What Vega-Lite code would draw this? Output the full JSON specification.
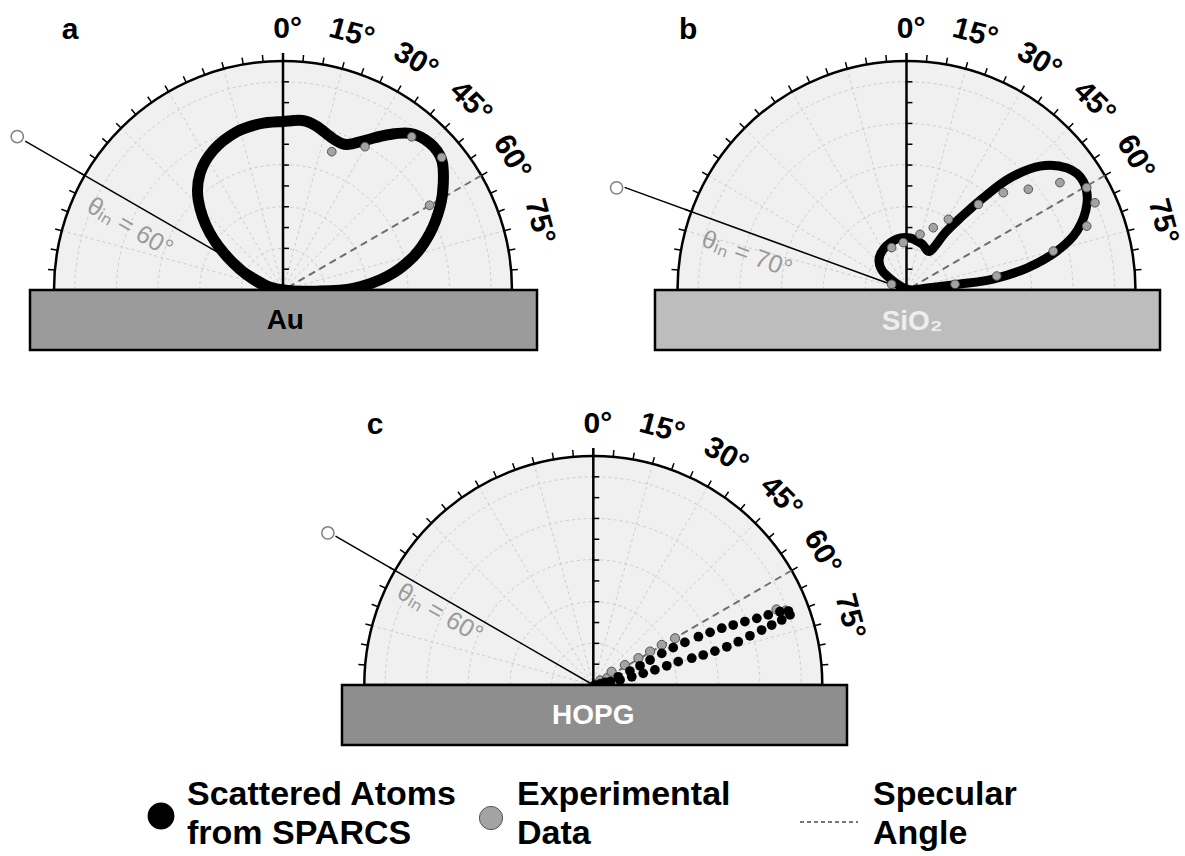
{
"$schema":"https://vega.github.io/schema/vega-lite/v6.json",
"background":"white",
"padding":0,
"config":{"view":{"stroke":null},"axis":{"disable":true},"legend":{"disable":true},"font":"Liberation Sans"},
"datasets":{
"gridArcs":[{"r":0.1818},{"r":0.3636},{"r":0.5455},{"r":0.7273},{"r":0.9091}],
"gridRays":[{"x":-0.9659,"y":0.2588},{"x":-0.866,"y":0.5},{"x":-0.7071,"y":0.7071},{"x":-0.5,"y":0.866},{"x":-0.2588,"y":0.9659},{"x":0.2588,"y":0.9659},{"x":0.5,"y":0.866},{"x":0.7071,"y":0.7071},{"x":0.866,"y":0.5},{"x":0.9659,"y":0.2588}],
"arcTicks":[{"a":-85},{"a":-80},{"a":-75},{"a":-70},{"a":-65},{"a":-60},{"a":-55},{"a":-50},{"a":-45},{"a":-40},{"a":-35},{"a":-30},{"a":-25},{"a":-20},{"a":-15},{"a":-10},{"a":-5},{"a":5},{"a":10},{"a":15},{"a":20},{"a":25},{"a":30},{"a":35},{"a":40},{"a":45},{"a":50},{"a":55},{"a":60},{"a":65},{"a":70},{"a":75},{"a":80},{"a":85}],
"rTicks":[{"y":0.0909},{"y":0.1818},{"y":0.2727},{"y":0.3636},{"y":0.4545},{"y":0.5455},{"y":0.6364},{"y":0.7273},{"y":0.8182},{"y":0.9091}],
"angleLabels":[{"t":"0°","x":0.02,"y":1.14,"rot":0},{"t":"15°","x":0.30,"y":1.12,"rot":15},{"t":"30°","x":0.58,"y":1.0,"rot":30},{"t":"45°","x":0.82,"y":0.82,"rot":45},{"t":"60°","x":1.0,"y":0.58,"rot":60},{"t":"75°","x":1.12,"y":0.30,"rot":75}]
},
"vconcat":[
{"hconcat":[
{"width":590,"height":365,
"layer":[
{"data":{"values":[{"r":1}]},"mark":{"type":"arc","fill":"#f0f0f0"},
"encoding":{"x":{"datum":0,"type":"quantitative","scale":{"domain":[-1.23581,1.34061],"nice":false,"zero":false},"axis":null},
"y":{"datum":0,"type":"quantitative","scale":{"domain":[-0.32751,1.26638],"nice":false,"zero":false},"axis":null},
"theta":{"datum":-90,"type":"quantitative","scale":{"type":"linear","domain":[-90,90],"range":[-1.5708,1.5708]}},
"theta2":{"datum":90},
"radius":{"field":"r","type":"quantitative","stack":null,"scale":{"type":"linear","domain":[0,1],"range":[0,229],"zero":true}}}},
{"data":{"name":"gridArcs"},"mark":{"type":"arc","filled":false,"stroke":"#cccccc","strokeWidth":1,"strokeDash":[3,3]},
"encoding":{"x":{"datum":0,"type":"quantitative"},"y":{"datum":0,"type":"quantitative"},"theta":{"datum":-90,"type":"quantitative"},"theta2":{"datum":90},"radius":{"field":"r","type":"quantitative","stack":null}}},
{"data":{"name":"gridRays"},"mark":{"type":"rule","color":"#cccccc","strokeWidth":1,"strokeDash":[3,3]},
"encoding":{"x":{"field":"x","type":"quantitative"},"y":{"field":"y","type":"quantitative"},"x2":{"datum":0},"y2":{"datum":0}}},
{"data":{"values":[{"r":1}]},"mark":{"type":"arc","filled":false,"stroke":"black","strokeWidth":2.5},
"encoding":{"x":{"datum":0,"type":"quantitative"},"y":{"datum":0,"type":"quantitative"},"theta":{"datum":-90,"type":"quantitative"},"theta2":{"datum":90},"radius":{"field":"r","type":"quantitative","stack":null}}},
{"data":{"name":"arcTicks"},"mark":{"type":"arc","filled":false,"stroke":"black","strokeWidth":1.5},
"encoding":{"x":{"datum":0,"type":"quantitative"},"y":{"datum":0,"type":"quantitative"},"theta":{"field":"a","type":"quantitative","stack":null},"theta2":{"field":"a"},"radius":{"datum":1.03,"type":"quantitative"},"radius2":{"datum":1}}},
{"data":{"values":[{}]},"mark":{"type":"rule","color":"black","strokeWidth":2.5},
"encoding":{"x":{"datum":0,"type":"quantitative"},"y":{"datum":0,"type":"quantitative"},"y2":{"datum":1.035}}},
{"data":{"name":"rTicks"},"mark":{"type":"rule","color":"black","strokeWidth":1.5},
"encoding":{"x":{"datum":0,"type":"quantitative"},"x2":{"datum":0.026},"y":{"field":"y","type":"quantitative"}}},
{"data":{"values":[{"x":0.866,"y":0.5}]},"mark":{"type":"rule","color":"#6e6e6e","strokeWidth":2,"strokeDash":[7,5]},
"encoding":{"x":{"field":"x","type":"quantitative"},"y":{"field":"y","type":"quantitative"},"x2":{"datum":0.03},"y2":{"datum":0.017}}},
{"data":{"values":[{"a":-60}]},"mark":{"type":"arc","filled":false,"stroke":"black","strokeWidth":1.5},
"encoding":{"x":{"datum":0,"type":"quantitative"},"y":{"datum":0,"type":"quantitative"},"theta":{"field":"a","type":"quantitative","stack":null},"theta2":{"field":"a"},"radius":{"datum":1.3,"type":"quantitative"},"radius2":{"datum":0}}},
{"data":{"values":[{"x":-1.1605,"y":0.67}]},"mark":{"type":"point","filled":false,"stroke":"#808080","strokeWidth":1.5,"size":150,"opacity":1},
"encoding":{"x":{"field":"x","type":"quantitative"},"y":{"field":"y","type":"quantitative"}}},
{"data":{"values":[{"x":-0.668,"y":0.275,"t":"θᵢₙ = 60°","rot":30}]},"mark":{"type":"text","fontSize":25,"color":"#9a9a9a","align":"center","baseline":"middle"},
"encoding":{"x":{"field":"x","type":"quantitative"},"y":{"field":"y","type":"quantitative"},"text":{"field":"t"},"angle":{"field":"rot","type":"quantitative","scale":null}}},
{"data":{"values":[
{"i":0,"x":0.001,"y":0.0},{"i":1,"x":-0.1,"y":0.029},{"i":2,"x":-0.217,"y":0.117},{"i":3,"x":-0.319,"y":0.248},{"i":4,"x":-0.37,"y":0.393},{"i":5,"x":-0.362,"y":0.51},{"i":6,"x":-0.304,"y":0.611},{"i":7,"x":-0.202,"y":0.691},{"i":8,"x":-0.1,"y":0.726},{"i":9,"x":0.001,"y":0.736},{"i":10,"x":0.085,"y":0.74},{"i":11,"x":0.147,"y":0.715},{"i":12,"x":0.22,"y":0.66},{"i":13,"x":0.278,"y":0.635},{"i":14,"x":0.365,"y":0.655},{"i":15,"x":0.453,"y":0.677},{"i":16,"x":0.555,"y":0.684},{"i":17,"x":0.642,"y":0.641},{"i":18,"x":0.693,"y":0.568},{"i":19,"x":0.7,"y":0.466},{"i":20,"x":0.686,"y":0.364},{"i":21,"x":0.642,"y":0.248},{"i":22,"x":0.569,"y":0.145},{"i":23,"x":0.453,"y":0.058},{"i":24,"x":0.307,"y":0.007},{"i":25,"x":0.147,"y":-0.005}]},
"mark":{"type":"line","color":"black","strokeWidth":11,"interpolate":"cardinal-closed","strokeJoin":"round"},
"encoding":{"x":{"field":"x","type":"quantitative"},"y":{"field":"y","type":"quantitative"},"order":{"field":"i","type":"quantitative"}}},
{"data":{"values":[{"x":0.213,"y":0.604},{"x":0.358,"y":0.626},{"x":0.562,"y":0.669},{"x":0.693,"y":0.579},{"x":0.64,"y":0.37}]},
"mark":{"type":"point","filled":true,"fill":"#a3a3a3","stroke":"#555555","strokeWidth":1,"size":75,"opacity":1},
"encoding":{"x":{"field":"x","type":"quantitative"},"y":{"field":"y","type":"quantitative"}}},
{"data":{"values":[{"x0":-1.1048,"x1":1.1092,"y0":-0.262,"y1":0}]},"mark":{"type":"rect","fill":"#9b9b9b","stroke":"black","strokeWidth":2.5},
"encoding":{"x":{"field":"x0","type":"quantitative"},"x2":{"field":"x1"},"y":{"field":"y0","type":"quantitative"},"y2":{"field":"y1"}}},
{"data":{"values":[{"t":"Au","tx":0.01,"ty":-0.135}]},"mark":{"type":"text","fontSize":28,"fontWeight":"bold","color":"black","align":"center","baseline":"middle"},
"encoding":{"x":{"field":"tx","type":"quantitative"},"y":{"field":"ty","type":"quantitative"},"text":{"field":"t"}}},
{"data":{"name":"angleLabels"},"mark":{"type":"text","fontSize":30,"fontWeight":"bold","color":"black","align":"center","baseline":"middle"},
"encoding":{"x":{"field":"x","type":"quantitative"},"y":{"field":"y","type":"quantitative"},"text":{"field":"t"},"angle":{"field":"rot","type":"quantitative","scale":null}}},
{"data":{"values":[{"t":"a","x":-0.93,"y":1.135}]},"mark":{"type":"text","fontSize":30,"fontWeight":"bold","color":"black","align":"center","baseline":"middle"},
"encoding":{"x":{"field":"x","type":"quantitative"},"y":{"field":"y","type":"quantitative"},"text":{"field":"t"}}}
]},
{"width":590,"height":365,
"layer":[
{"data":{"values":[{"r":1}]},"mark":{"type":"arc","fill":"#f0f0f0"},
"encoding":{"x":{"datum":0,"type":"quantitative","scale":{"domain":[-1.36026,1.21616],"nice":false,"zero":false},"axis":null},
"y":{"datum":0,"type":"quantitative","scale":{"domain":[-0.32751,1.26638],"nice":false,"zero":false},"axis":null},
"theta":{"datum":-90,"type":"quantitative","scale":{"type":"linear","domain":[-90,90],"range":[-1.5708,1.5708]}},
"theta2":{"datum":90},
"radius":{"field":"r","type":"quantitative","stack":null,"scale":{"type":"linear","domain":[0,1],"range":[0,229],"zero":true}}}},
{"data":{"name":"gridArcs"},"mark":{"type":"arc","filled":false,"stroke":"#cccccc","strokeWidth":1,"strokeDash":[3,3]},
"encoding":{"x":{"datum":0,"type":"quantitative"},"y":{"datum":0,"type":"quantitative"},"theta":{"datum":-90,"type":"quantitative"},"theta2":{"datum":90},"radius":{"field":"r","type":"quantitative","stack":null}}},
{"data":{"name":"gridRays"},"mark":{"type":"rule","color":"#cccccc","strokeWidth":1,"strokeDash":[3,3]},
"encoding":{"x":{"field":"x","type":"quantitative"},"y":{"field":"y","type":"quantitative"},"x2":{"datum":0},"y2":{"datum":0}}},
{"data":{"values":[{"r":1}]},"mark":{"type":"arc","filled":false,"stroke":"black","strokeWidth":2.5},
"encoding":{"x":{"datum":0,"type":"quantitative"},"y":{"datum":0,"type":"quantitative"},"theta":{"datum":-90,"type":"quantitative"},"theta2":{"datum":90},"radius":{"field":"r","type":"quantitative","stack":null}}},
{"data":{"name":"arcTicks"},"mark":{"type":"arc","filled":false,"stroke":"black","strokeWidth":1.5},
"encoding":{"x":{"datum":0,"type":"quantitative"},"y":{"datum":0,"type":"quantitative"},"theta":{"field":"a","type":"quantitative","stack":null},"theta2":{"field":"a"},"radius":{"datum":1.03,"type":"quantitative"},"radius2":{"datum":1}}},
{"data":{"values":[{}]},"mark":{"type":"rule","color":"black","strokeWidth":2.5},
"encoding":{"x":{"datum":0,"type":"quantitative"},"y":{"datum":0,"type":"quantitative"},"y2":{"datum":1.035}}},
{"data":{"name":"rTicks"},"mark":{"type":"rule","color":"black","strokeWidth":1.5},
"encoding":{"x":{"datum":0,"type":"quantitative"},"x2":{"datum":0.026},"y":{"field":"y","type":"quantitative"}}},
{"data":{"values":[{"x":0.866,"y":0.5}]},"mark":{"type":"rule","color":"#6e6e6e","strokeWidth":2,"strokeDash":[7,5]},
"encoding":{"x":{"field":"x","type":"quantitative"},"y":{"field":"y","type":"quantitative"},"x2":{"datum":0.03},"y2":{"datum":0.017}}},
{"data":{"values":[{"a":-70}]},"mark":{"type":"arc","filled":false,"stroke":"black","strokeWidth":1.5},
"encoding":{"x":{"datum":0,"type":"quantitative"},"y":{"datum":0,"type":"quantitative"},"theta":{"field":"a","type":"quantitative","stack":null},"theta2":{"field":"a"},"radius":{"datum":1.31,"type":"quantitative"},"radius2":{"datum":0}}},
{"data":{"values":[{"x":-1.266,"y":0.446}]},"mark":{"type":"point","filled":false,"stroke":"#808080","strokeWidth":1.5,"size":150,"opacity":1},
"encoding":{"x":{"field":"x","type":"quantitative"},"y":{"field":"y","type":"quantitative"}}},
{"data":{"values":[{"x":-0.697,"y":0.157,"t":"θᵢₙ = 70°","rot":20}]},"mark":{"type":"text","fontSize":25,"color":"#9a9a9a","align":"center","baseline":"middle"},
"encoding":{"x":{"field":"x","type":"quantitative"},"y":{"field":"y","type":"quantitative"},"text":{"field":"t"},"angle":{"field":"rot","type":"quantitative","scale":null}}},
{"data":{"values":[
{"i":0,"x":0.0,"y":0.004},{"i":1,"x":-0.094,"y":0.07},{"i":2,"x":-0.12,"y":0.127},{"i":3,"x":-0.1,"y":0.179},{"i":4,"x":-0.041,"y":0.223},{"i":5,"x":0.015,"y":0.227},{"i":6,"x":0.068,"y":0.201},{"i":7,"x":0.103,"y":0.17},{"i":8,"x":0.168,"y":0.249},{"i":9,"x":0.234,"y":0.314},{"i":10,"x":0.334,"y":0.402},{"i":11,"x":0.452,"y":0.489},{"i":12,"x":0.583,"y":0.541},{"i":13,"x":0.701,"y":0.533},{"i":14,"x":0.771,"y":0.476},{"i":15,"x":0.788,"y":0.376},{"i":16,"x":0.745,"y":0.258},{"i":17,"x":0.657,"y":0.17},{"i":18,"x":0.526,"y":0.096},{"i":19,"x":0.378,"y":0.048},{"i":20,"x":0.234,"y":0.026},{"i":21,"x":0.09,"y":0.009}]},
"mark":{"type":"line","color":"black","strokeWidth":9,"interpolate":"cardinal-closed","strokeJoin":"round"},
"encoding":{"x":{"field":"x","type":"quantitative"},"y":{"field":"y","type":"quantitative"},"order":{"field":"i","type":"quantitative"}}},
{"data":{"values":[{"x":-0.065,"y":0.185},{"x":-0.014,"y":0.207},{"x":0.059,"y":0.243},{"x":0.117,"y":0.272},{"x":0.183,"y":0.309},{"x":0.314,"y":0.374},{"x":0.423,"y":0.425},{"x":0.532,"y":0.44},{"x":0.67,"y":0.469},{"x":0.787,"y":0.447},{"x":0.823,"y":0.381},{"x":0.787,"y":0.279},{"x":0.641,"y":0.17},{"x":0.394,"y":0.061},{"x":0.212,"y":0.025},{"x":-0.065,"y":0.025}]},
"mark":{"type":"point","filled":true,"fill":"#a3a3a3","stroke":"#555555","strokeWidth":1,"size":75,"opacity":1},
"encoding":{"x":{"field":"x","type":"quantitative"},"y":{"field":"y","type":"quantitative"}}},
{"data":{"values":[{"x0":-1.0983,"x1":1.107,"y0":-0.262,"y1":0}]},"mark":{"type":"rect","fill":"#bdbdbd","stroke":"black","strokeWidth":2.5},
"encoding":{"x":{"field":"x0","type":"quantitative"},"x2":{"field":"x1"},"y":{"field":"y0","type":"quantitative"},"y2":{"field":"y1"}}},
{"data":{"values":[{"t":"SiO₂","tx":0.024,"ty":-0.14}]},"mark":{"type":"text","fontSize":28,"fontWeight":"bold","color":"#eeeeee","align":"center","baseline":"middle"},
"encoding":{"x":{"field":"tx","type":"quantitative"},"y":{"field":"ty","type":"quantitative"},"text":{"field":"t"}}},
{"data":{"name":"angleLabels"},"mark":{"type":"text","fontSize":30,"fontWeight":"bold","color":"black","align":"center","baseline":"middle"},
"encoding":{"x":{"field":"x","type":"quantitative"},"y":{"field":"y","type":"quantitative"},"text":{"field":"t"},"angle":{"field":"rot","type":"quantitative","scale":null}}},
{"data":{"values":[{"t":"b","x":-0.954,"y":1.135}]},"mark":{"type":"text","fontSize":30,"fontWeight":"bold","color":"black","align":"center","baseline":"middle"},
"encoding":{"x":{"field":"x","type":"quantitative"},"y":{"field":"y","type":"quantitative"},"text":{"field":"t"}}}
]}
],"spacing":5},
{"width":1185,"height":395,
"layer":[
{"data":{"values":[{"r":1}]},"mark":{"type":"arc","fill":"#f0f0f0"},
"encoding":{"x":{"datum":0,"type":"quantitative","scale":{"domain":[-2.59083,2.58384],"nice":false,"zero":false},"axis":null},
"y":{"datum":0,"type":"quantitative","scale":{"domain":[-0.32751,1.39738],"nice":false,"zero":false},"axis":null},
"theta":{"datum":-90,"type":"quantitative","scale":{"type":"linear","domain":[-90,90],"range":[-1.5708,1.5708]}},
"theta2":{"datum":90},
"radius":{"field":"r","type":"quantitative","stack":null,"scale":{"type":"linear","domain":[0,1],"range":[0,229],"zero":true}}}},
{"data":{"name":"gridArcs"},"mark":{"type":"arc","filled":false,"stroke":"#cccccc","strokeWidth":1,"strokeDash":[3,3]},
"encoding":{"x":{"datum":0,"type":"quantitative"},"y":{"datum":0,"type":"quantitative"},"theta":{"datum":-90,"type":"quantitative"},"theta2":{"datum":90},"radius":{"field":"r","type":"quantitative","stack":null}}},
{"data":{"name":"gridRays"},"mark":{"type":"rule","color":"#cccccc","strokeWidth":1,"strokeDash":[3,3]},
"encoding":{"x":{"field":"x","type":"quantitative"},"y":{"field":"y","type":"quantitative"},"x2":{"datum":0},"y2":{"datum":0}}},
{"data":{"values":[{"r":1}]},"mark":{"type":"arc","filled":false,"stroke":"black","strokeWidth":2.5},
"encoding":{"x":{"datum":0,"type":"quantitative"},"y":{"datum":0,"type":"quantitative"},"theta":{"datum":-90,"type":"quantitative"},"theta2":{"datum":90},"radius":{"field":"r","type":"quantitative","stack":null}}},
{"data":{"name":"arcTicks"},"mark":{"type":"arc","filled":false,"stroke":"black","strokeWidth":1.5},
"encoding":{"x":{"datum":0,"type":"quantitative"},"y":{"datum":0,"type":"quantitative"},"theta":{"field":"a","type":"quantitative","stack":null},"theta2":{"field":"a"},"radius":{"datum":1.03,"type":"quantitative"},"radius2":{"datum":1}}},
{"data":{"values":[{}]},"mark":{"type":"rule","color":"black","strokeWidth":2.5},
"encoding":{"x":{"datum":0,"type":"quantitative"},"y":{"datum":0,"type":"quantitative"},"y2":{"datum":1.035}}},
{"data":{"name":"rTicks"},"mark":{"type":"rule","color":"black","strokeWidth":1.5},
"encoding":{"x":{"datum":0,"type":"quantitative"},"x2":{"datum":0.026},"y":{"field":"y","type":"quantitative"}}},
{"data":{"values":[{"x":0.866,"y":0.5}]},"mark":{"type":"rule","color":"#6e6e6e","strokeWidth":2,"strokeDash":[7,5]},
"encoding":{"x":{"field":"x","type":"quantitative"},"y":{"field":"y","type":"quantitative"},"x2":{"datum":0.03},"y2":{"datum":0.017}}},
{"data":{"values":[{"a":-60}]},"mark":{"type":"arc","filled":false,"stroke":"black","strokeWidth":1.5},
"encoding":{"x":{"datum":0,"type":"quantitative"},"y":{"datum":0,"type":"quantitative"},"theta":{"field":"a","type":"quantitative","stack":null},"theta2":{"field":"a"},"radius":{"datum":1.3,"type":"quantitative"},"radius2":{"datum":0}}},
{"data":{"values":[{"x":-1.159,"y":0.664}]},"mark":{"type":"point","filled":false,"stroke":"#808080","strokeWidth":1.5,"size":150,"opacity":1},
"encoding":{"x":{"field":"x","type":"quantitative"},"y":{"field":"y","type":"quantitative"}}},
{"data":{"values":[{"x":-0.669,"y":0.314,"t":"θᵢₙ = 60°","rot":30}]},"mark":{"type":"text","fontSize":25,"color":"#9a9a9a","align":"center","baseline":"middle"},
"encoding":{"x":{"field":"x","type":"quantitative"},"y":{"field":"y","type":"quantitative"},"text":{"field":"t"},"angle":{"field":"rot","type":"quantitative","scale":null}}},
{"data":{"values":[{"x":0.03,"y":0.02},{"x":0.06,"y":0.03},{"x":0.08,"y":0.058},{"x":0.138,"y":0.087},{"x":0.197,"y":0.117},{"x":0.248,"y":0.146},{"x":0.299,"y":0.175},{"x":0.357,"y":0.204},{"x":0.1,"y":0.012},{"x":0.8,"y":0.33},{"x":0.84,"y":0.325}]},
"mark":{"type":"point","filled":true,"fill":"#a3a3a3","stroke":"#555555","strokeWidth":1,"size":85,"opacity":1},
"encoding":{"x":{"field":"x","type":"quantitative"},"y":{"field":"y","type":"quantitative"}}},
{"data":{"values":[{"x":0.051,"y":0.012},{"x":0.109,"y":0.036},{"x":0.16,"y":0.061},{"x":0.204,"y":0.084},{"x":0.248,"y":0.109},{"x":0.299,"y":0.138},{"x":0.349,"y":0.163},{"x":0.4,"y":0.186},{"x":0.459,"y":0.211},{"x":0.51,"y":0.23},{"x":0.561,"y":0.248},{"x":0.611,"y":0.262},{"x":0.662,"y":0.277},{"x":0.714,"y":0.291},{"x":0.764,"y":0.306},{"x":0.815,"y":0.32},{"x":0.852,"y":0.323},{"x":0.859,"y":0.306},{"x":0.823,"y":0.284},{"x":0.779,"y":0.262},{"x":0.735,"y":0.24},{"x":0.684,"y":0.215},{"x":0.633,"y":0.189},{"x":0.583,"y":0.167},{"x":0.531,"y":0.148},{"x":0.48,"y":0.131},{"x":0.43,"y":0.117},{"x":0.371,"y":0.102},{"x":0.321,"y":0.084},{"x":0.269,"y":0.066},{"x":0.218,"y":0.051},{"x":0.168,"y":0.036},{"x":0.117,"y":0.022},{"x":0.075,"y":0.015},{"x":0.03,"y":0.005},{"x":0.007,"y":0.0}]},
"mark":{"type":"point","filled":true,"color":"black","size":95,"opacity":1},
"encoding":{"x":{"field":"x","type":"quantitative"},"y":{"field":"y","type":"quantitative"}}},
{"data":{"values":[{"x0":-1.0974,"x1":1.1079,"y0":-0.262,"y1":0}]},"mark":{"type":"rect","fill":"#8e8e8e","stroke":"black","strokeWidth":2.5},
"encoding":{"x":{"field":"x0","type":"quantitative"},"x2":{"field":"x1"},"y":{"field":"y0","type":"quantitative"},"y2":{"field":"y1"}}},
{"data":{"values":[{"t":"HOPG","tx":0.0,"ty":-0.135}]},"mark":{"type":"text","fontSize":28,"fontWeight":"bold","color":"white","align":"center","baseline":"middle"},
"encoding":{"x":{"field":"tx","type":"quantitative"},"y":{"field":"ty","type":"quantitative"},"text":{"field":"t"}}},
{"data":{"name":"angleLabels"},"mark":{"type":"text","fontSize":30,"fontWeight":"bold","color":"black","align":"center","baseline":"middle"},
"encoding":{"x":{"field":"x","type":"quantitative"},"y":{"field":"y","type":"quantitative"},"text":{"field":"t"},"angle":{"field":"rot","type":"quantitative","scale":null}}},
{"data":{"values":[{"t":"c","x":-0.953,"y":1.135}]},"mark":{"type":"text","fontSize":30,"fontWeight":"bold","color":"black","align":"center","baseline":"middle"},
"encoding":{"x":{"field":"x","type":"quantitative"},"y":{"field":"y","type":"quantitative"},"text":{"field":"t"}}}
]},
{"width":1185,"height":96,
"layer":[
{"data":{"values":[{"x":161,"y":56}]},"mark":{"type":"point","filled":true,"color":"black","size":720,"opacity":1},
"encoding":{"x":{"field":"x","type":"quantitative","scale":{"domain":[0,1185],"nice":false,"zero":false},"axis":null},"y":{"field":"y","type":"quantitative","scale":{"domain":[96,0],"nice":false,"zero":false},"axis":null}}},
{"data":{"values":[{"x":491,"y":58}]},"mark":{"type":"point","filled":true,"fill":"#a3a3a3","stroke":"#555555","strokeWidth":1,"size":540,"opacity":1},
"encoding":{"x":{"field":"x","type":"quantitative"},"y":{"field":"y","type":"quantitative"}}},
{"data":{"values":[{"x":800,"x2":858,"y":62}]},"mark":{"type":"rule","color":"#777777","strokeWidth":2,"strokeDash":[4,3]},
"encoding":{"x":{"field":"x","type":"quantitative"},"x2":{"field":"x2"},"y":{"field":"y","type":"quantitative"}}},
{"data":{"values":[{"x":187,"y":35,"t":"Scattered Atoms"},{"x":187,"y":74,"t":"from SPARCS"},{"x":517,"y":35,"t":"Experimental"},{"x":517,"y":74,"t":"Data"},{"x":873,"y":35,"t":"Specular"},{"x":873,"y":74,"t":"Angle"}]},
"mark":{"type":"text","fontSize":34,"fontWeight":"bold","color":"black","align":"left","baseline":"middle"},
"encoding":{"x":{"field":"x","type":"quantitative"},"y":{"field":"y","type":"quantitative"},"text":{"field":"t"}}}
]}
],
"spacing":0
}
